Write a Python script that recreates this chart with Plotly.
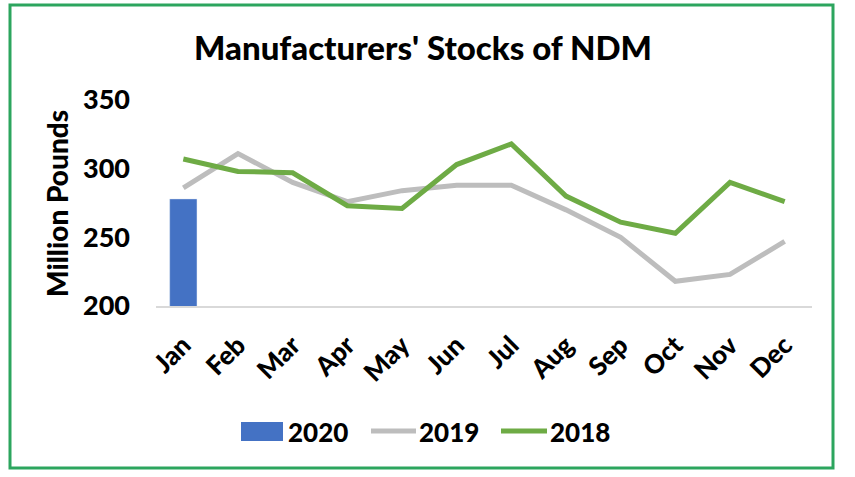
import plotly.graph_objects as go

months = ["Jan", "Feb", "Mar", "Apr", "May", "Jun", "Jul", "Aug", "Sep", "Oct", "Nov", "Dec"]
y2020_months = ["Jan"]
y2020 = [278]
y2019 = [286, 311, 290, 276, 284, 288, 288, 270, 250, 218, 223, 247]
y2018 = [307, 298, 297, 273, 271, 303, 318, 280, 261, 253, 290, 276]
yticks = [200, 250, 300, 350]
series_names = ["2020", "2019", "2018"]

C_BAR = "#4472C4"
C_2019 = "#BDBDBD"
C_2018 = "#6EAB45"
FONT = "Lato"
WEIGHT = 900

W_PX, H_PX = 855, 477
L, R, T, B = 156, 812, 100, 306
PW, PH = R - L, B - T


def px_x(p):
    return (p - L) / PW


def px_y(p):
    return (B - p) / PH


fig = go.Figure()
fig.add_trace(go.Bar(x=y2020_months, y=y2020, name=series_names[0], marker_color=C_BAR,
                     width=0.5, showlegend=False))
fig.add_trace(go.Scatter(x=months, y=y2019, name=series_names[1], mode="lines",
                         line=dict(color=C_2019, width=5), showlegend=False))
fig.add_trace(go.Scatter(x=months, y=y2018, name=series_names[2], mode="lines",
                         line=dict(color=C_2018, width=5), showlegend=False))

shapes = [
    # outer green frame
    dict(type="rect", xref="paper", yref="paper",
         x0=px_x(10), x1=px_x(833), y0=px_y(468), y1=px_y(5),
         line=dict(color="#2CA55E", width=3), fillcolor="rgba(0,0,0,0)", layer="below"),
    # legend swatches
    dict(type="rect", xref="paper", yref="paper",
         x0=px_x(241), x1=px_x(283), y0=px_y(441), y1=px_y(422),
         line=dict(width=0), fillcolor=C_BAR),
    dict(type="line", xref="paper", yref="paper",
         x0=px_x(371), x1=px_x(416), y0=px_y(431), y1=px_y(431),
         line=dict(color=C_2019, width=5)),
    dict(type="line", xref="paper", yref="paper",
         x0=px_x(501), x1=px_x(547), y0=px_y(431), y1=px_y(431),
         line=dict(color=C_2018, width=5)),
]

annotations = [
    dict(text="Million Pounds", xref="paper", yref="paper",
         x=px_x(57), y=px_y(204), textangle=-90, showarrow=False,
         xanchor="center", yanchor="middle",
         font=dict(family=FONT, size=28, weight=WEIGHT, color="#000000")),
]
for name, xp in zip(series_names, [286, 417, 548]):
    annotations.append(dict(text=name, xref="paper", yref="paper",
                            x=px_x(xp), y=px_y(432), showarrow=False,
                            xanchor="left", yanchor="middle",
                            font=dict(family=FONT, size=26, weight=WEIGHT, color="#000000")))

fig.update_layout(
    width=W_PX, height=H_PX,
    margin=dict(l=L, r=W_PX - R, t=T, b=H_PX - B, pad=0, autoexpand=False),
    paper_bgcolor="#FFFFFF", plot_bgcolor="#FFFFFF",
    title=dict(text="Manufacturers' Stocks of NDM", x=423 / W_PX, xanchor="center",
               y=1 - 48 / H_PX, yanchor="middle", automargin=False,
               font=dict(family=FONT, size=33, weight=WEIGHT, color="#000000")),
    showlegend=False,
    bargap=0.5,
    shapes=shapes,
    annotations=annotations,
    font=dict(family=FONT, color="#000000"),
)
fig.update_xaxes(categoryorder="array", categoryarray=months, type="category",
                 showgrid=False, showline=True, linecolor="#D9D9D9", linewidth=1.5,
                 ticks="", tickangle=-45, automargin=False, ticklabelstandoff=12,
                 tickfont=dict(family=FONT, size=26, weight=WEIGHT, color="#000000"),
                 range=[-0.5, 11.5], fixedrange=True)
fig.update_yaxes(range=[200, 350], tickvals=yticks, showgrid=False, zeroline=False,
                 showline=False, ticks="", ticklabelstandoff=25, automargin=False,
                 tickfont=dict(family=FONT, size=27, weight=WEIGHT, color="#000000"),
                 fixedrange=True)

fig.write_html("out.html",
               config={"displayModeBar": False},
               post_script="document.body.style.margin='0px';document.body.style.overflow='hidden';")
